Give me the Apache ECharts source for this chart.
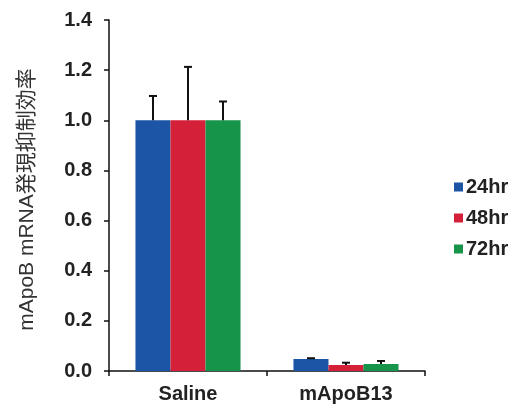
<!DOCTYPE html>
<html>
<head>
<meta charset="utf-8">
<script src="https://cdn.jsdelivr.net/npm/echarts@6/dist/echarts.min.js"></script>
<style>
html,body{margin:0;padding:0;background:#fff;}
#c{width:514px;height:409px;}
</style>
</head>
<body>
<div id="c"></div>
<script>
const categories = ['Saline', 'mApoB13'];
const seriesNames = ['24hr', '48hr', '72hr'];
const values24 = [1.0, 0.048];
const values48 = [1.0, 0.024];
const values72 = [1.0, 0.028];
const err24 = [0.097, 0.003];
const err48 = [0.213, 0.009];
const err72 = [0.075, 0.012];
const yTicks = [0, 0.2, 0.4, 0.6, 0.8, 1.0, 1.2, 1.4];

const colors = ['#1c55a5', '#d42038', '#16944a'];
const catGap = 0.335;
const allVals = [values24, values48, values72];
const allErrs = [err24, err48, err72];

const chart = echarts.init(document.getElementById('c'), null, {renderer: 'canvas'});

const series = [];
seriesNames.forEach((n, i) => {
  series.push({
    name: n, type: 'bar', data: allVals[i],
    itemStyle: {color: colors[i]},
    barGap: '0%', barCategoryGap: (catGap * 100) + '%',
    z: 2
  });
});
seriesNames.forEach((n, i) => {
  series.push({
    name: 'err' + n, type: 'custom', z: 5,
    data: categories.map((c, k) => [k, allVals[i][k], allErrs[i][k]]),
    renderItem: function (params, api) {
      const x = api.value(0), v = api.value(1), e = api.value(2);
      const base = api.coord([x, v]);
      const top = api.coord([x, v + e]);
      const band = api.size([1, 0])[0];
      const bw = band * (1 - catGap) / 3;
      const cx = base[0] + (i - 1) * bw;
      const st = {stroke: '#111', lineWidth: 2};
      return {type: 'group', children: [
        {type: 'line', shape: {x1: cx, y1: base[1], x2: cx, y2: top[1]}, style: st},
        {type: 'line', shape: {x1: cx - 4, y1: top[1], x2: cx + 4, y2: top[1]}, style: st}
      ]};
    }
  });
});

chart.setOption({
  animation: false,
  backgroundColor: '#fff',
  grid: {left: 109, right: 89, top: 20, bottom: 38, containLabel: false},
  legend: {
    data: seriesNames, orient: 'vertical', left: 449, top: 172,
    itemWidth: 9, itemHeight: 9, itemGap: 11, icon: 'rect',
    textStyle: {fontFamily: 'Liberation Sans, Arial, sans-serif', fontWeight: 'bold', fontSize: 20, color: '#222', padding: [0,0,0,-2]}
  },
  xAxis: {
    type: 'category', data: categories,
    axisLine: {lineStyle: {color: '#111', width: 1.5}},
    axisTick: {show: true, length: 5, lineStyle: {color: '#111', width: 1.5}},
    axisLabel: {margin: 13, fontFamily: 'Liberation Sans, Arial, sans-serif', fontWeight: 'bold', fontSize: 20, color: '#222'}
  },
  yAxis: {
    type: 'value', min: 0, max: 1.4, interval: 0.2,
    name: 'mApoB mRNA発現抑制効率', nameLocation: 'middle', nameGap: 71, nameRotate: 90,
    nameTextStyle: {fontFamily: 'Liberation Sans, Noto Sans CJK JP, sans-serif', fontSize: 21, color: '#333', padding: [0, 0, 0, -8]},
    axisLine: {show: true, lineStyle: {color: '#111', width: 1.5}},
    axisTick: {show: true, length: 5, lineStyle: {color: '#111', width: 1.5}},
    splitLine: {show: false},
    axisLabel: {margin: 17, fontFamily: 'Liberation Sans, Arial, sans-serif', fontWeight: 'bold', fontSize: 20, color: '#222',
      formatter: v => {
        const t = yTicks.find(y => Math.abs(y - v) < 1e-6);
        return (t !== undefined ? t : v).toFixed(1);
      }}
  },
  series: series
});
</script>
</body>
</html>
